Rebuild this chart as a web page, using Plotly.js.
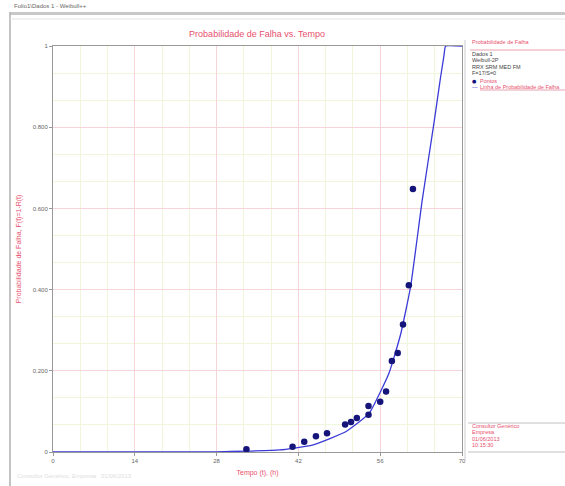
<!DOCTYPE html>
<html>
<head>
<meta charset="utf-8">
<script src="https://cdn.plot.ly/plotly-3.0.1.min.js"></script>
<style>
html,body{margin:0;padding:0;background:#fff;}
#chart{width:565px;height:486px;}
</style>
</head>
<body>
<div id="chart"></div>
<script>
// Data points (time, unreliability)
const pointTimes = [33.1, 41.0, 43.0, 45.0, 46.9, 50.0, 51.0, 52.0, 54.0, 54.0, 56.0, 57.0, 58.0, 59.0, 59.9, 60.9, 61.6];
const pointProbs = [0.007, 0.013, 0.025, 0.039, 0.046, 0.068, 0.074, 0.084, 0.092, 0.113, 0.124, 0.149, 0.224, 0.244, 0.314, 0.411, 0.648];

// Fitted probability line
const lineTimes = [0, 20, 28, 33, 38.8, 44.4, 50.1, 54.1, 57.5, 59.5, 61.2, 63.2, 65.2, 66.3, 66.9, 67.2, 70];
const lineProbs = [0, 0, 0.0005, 0.002, 0.005, 0.017, 0.05, 0.095, 0.194, 0.29, 0.407, 0.621, 0.81, 0.92, 0.975, 1.0, 1.0];

const xTickVals = [0, 14, 28, 42, 56, 70];
const xTickText = ['0', '14', '28', '42', '56', '70'];
const yTickVals = [0, 0.2, 0.4, 0.6, 0.8, 1];
const yTickText = ['0', '0.200', '0.400', '0.600', '0.800', '1'];

const legendLines = ['Dados 1', 'Weibull-2P', 'RRX SRM MED FM', 'F=17/S=0'];
const infoLines = ['Consultor Genérico', 'Empresa', '01/06/2013', '10:15:30'];

// pixel -> paper helpers (plot area 53..462 x, 46..452 y)
const L = 53, R = 462, T = 46, B = 452;
const px = p => (p - L) / (R - L);
const py = p => (B - p) / (B - T);

const red = '#e8506e';
const tickFont = {family: 'Arial, Liberation Sans, sans-serif', size: 6, color: '#666'};

const traces = [
  {
    x: lineTimes, y: lineProbs, type: 'scatter', mode: 'lines',
    line: {color: '#3a3ad8', width: 1.3, shape: 'spline', smoothing: 0.4},
    hoverinfo: 'skip', cliponaxis: true
  },
  {
    x: pointTimes, y: pointProbs, type: 'scatter', mode: 'markers',
    marker: {color: '#14147a', size: 6.5}, cliponaxis: false
  }
];

const shapes = [
  // window frame
  {type: 'rect', xref: 'paper', yref: 'paper', x0: px(10), x1: px(566), y0: py(12), y1: py(15), fillcolor: '#c8c8c8', line: {width: 0}},
  {type: 'line', xref: 'paper', yref: 'paper', x0: px(10), x1: px(10), y0: py(12), y1: py(486), line: {color: '#b0b0b0', width: 1.5}},
  {type: 'line', xref: 'paper', yref: 'paper', x0: px(10), x1: px(566), y0: py(19), y1: py(19), line: {color: '#e4e4e4', width: 1}},
  // right panel separator
  {type: 'line', xref: 'paper', yref: 'paper', x0: px(465), x1: px(465), y0: py(40), y1: py(460), line: {color: '#cccccc', width: 1}},
  // legend underline
  {type: 'line', xref: 'paper', yref: 'paper', x0: px(470), x1: px(565), y0: py(50), y1: py(50), line: {color: '#e8a0b0', width: 1}},
  {type: 'line', xref: 'paper', yref: 'paper', x0: px(480), x1: px(565), y0: py(90), y1: py(90), line: {color: '#e8a0b0', width: 1}},
  // info box lines
  {type: 'line', xref: 'paper', yref: 'paper', x0: px(468), x1: px(565), y0: py(423), y1: py(423), line: {color: '#c0c0c0', width: 1}},
  {type: 'line', xref: 'paper', yref: 'paper', x0: px(468), x1: px(565), y0: py(452), y1: py(452), line: {color: '#c0c0c0', width: 1}}
];

const annotations = [
  {xref: 'paper', yref: 'paper', x: px(12), y: py(11), text: 'Folio1\\Dados 1 - Weibull++', showarrow: false, xanchor: 'left', yanchor: 'bottom',
   font: {family: 'Arial, sans-serif', size: 6, color: '#666'}},
  {xref: 'paper', yref: 'paper', x: px(470), y: py(47), text: 'Probabilidade de Falha', showarrow: false, xanchor: 'left', yanchor: 'bottom',
   font: {family: 'Arial, sans-serif', size: 5.5, color: red}},
  {xref: 'paper', yref: 'paper', x: px(470), y: py(86), text: '●', showarrow: false, xanchor: 'left', yanchor: 'bottom',
   font: {family: 'DejaVu Sans, sans-serif', size: 5, color: '#14147a'}},
  {xref: 'paper', yref: 'paper', x: px(478), y: py(86), text: 'Pontos', showarrow: false, xanchor: 'left', yanchor: 'bottom',
   font: {family: 'Arial, sans-serif', size: 5.5, color: red}},
  {xref: 'paper', yref: 'paper', x: px(470), y: py(92), text: '—', showarrow: false, xanchor: 'left', yanchor: 'bottom',
   font: {family: 'Arial, sans-serif', size: 5.5, color: '#3a3ad8'}},
  {xref: 'paper', yref: 'paper', x: px(478), y: py(92), text: 'Linha de Probabilidade de Falha', showarrow: false, xanchor: 'left', yanchor: 'bottom',
   font: {family: 'Arial, sans-serif', size: 5.5, color: red}},
  {xref: 'paper', yref: 'paper', x: px(15), y: py(481), text: 'Consultor Genérico, Empresa   01/06/2013', showarrow: false, xanchor: 'left', yanchor: 'bottom',
   font: {family: 'Arial, sans-serif', size: 6, color: '#e0e0e0'}}
];
legendLines.forEach((t, i) => annotations.push({
  xref: 'paper', yref: 'paper', x: px(470), y: py(59 + i * 6.3), text: t, showarrow: false, xanchor: 'left', yanchor: 'bottom',
  font: {family: 'Arial, sans-serif', size: 5.5, color: '#444'}
}));
infoLines.forEach((t, i) => annotations.push({
  xref: 'paper', yref: 'paper', x: px(470), y: py(431 + i * 6.3), text: t, showarrow: false, xanchor: 'left', yanchor: 'bottom',
  font: {family: 'Arial, sans-serif', size: 5.5, color: red}
}));

const layout = {
  width: 565, height: 486,
  margin: {l: L, r: 565 - R, t: T, b: 486 - B},
  paper_bgcolor: '#ffffff', plot_bgcolor: '#ffffff',
  showlegend: false,
  title: {text: 'Probabilidade de Falha vs. Tempo', x: 0.455, xanchor: 'center', y: 1 - 34 / 486, yanchor: 'middle',
          font: {family: 'Arial, Liberation Sans, sans-serif', size: 9, color: red}},
  xaxis: {
    range: [0, 70], tickvals: xTickVals, ticktext: xTickText, tickfont: tickFont,
    showgrid: true, gridcolor: '#f7d3da', gridwidth: 1,
    minor: {dtick: 14 / 3, tick0: 0, showgrid: true, gridcolor: '#f0f6dc', gridwidth: 1},
    zeroline: false, showline: true, linecolor: '#999', linewidth: 1, mirror: true,
    ticks: 'outside', ticklen: 3, tickcolor: '#999',
    title: {text: 'Tempo (t), (h)', standoff: 6, font: {family: 'Arial, sans-serif', size: 7, color: red}}
  },
  yaxis: {
    range: [0, 1], tickvals: yTickVals, ticktext: yTickText, tickfont: tickFont,
    showgrid: true, gridcolor: '#f7d3da', gridwidth: 1,
    minor: {dtick: 0.2 / 3, tick0: 0, showgrid: true, gridcolor: '#f0f6dc', gridwidth: 1},
    zeroline: false, showline: true, linecolor: '#999', linewidth: 1, mirror: true,
    ticks: 'outside', ticklen: 3, tickcolor: '#999',
    title: {text: 'Probabilidade de Falha, F(t)=1-R(t)', standoff: 10, font: {family: 'Arial, sans-serif', size: 7, color: red}}
  },
  shapes: shapes,
  annotations: annotations
};

Plotly.newPlot('chart', traces, layout, {displayModeBar: false, staticPlot: true});
</script>
</body>
</html>
